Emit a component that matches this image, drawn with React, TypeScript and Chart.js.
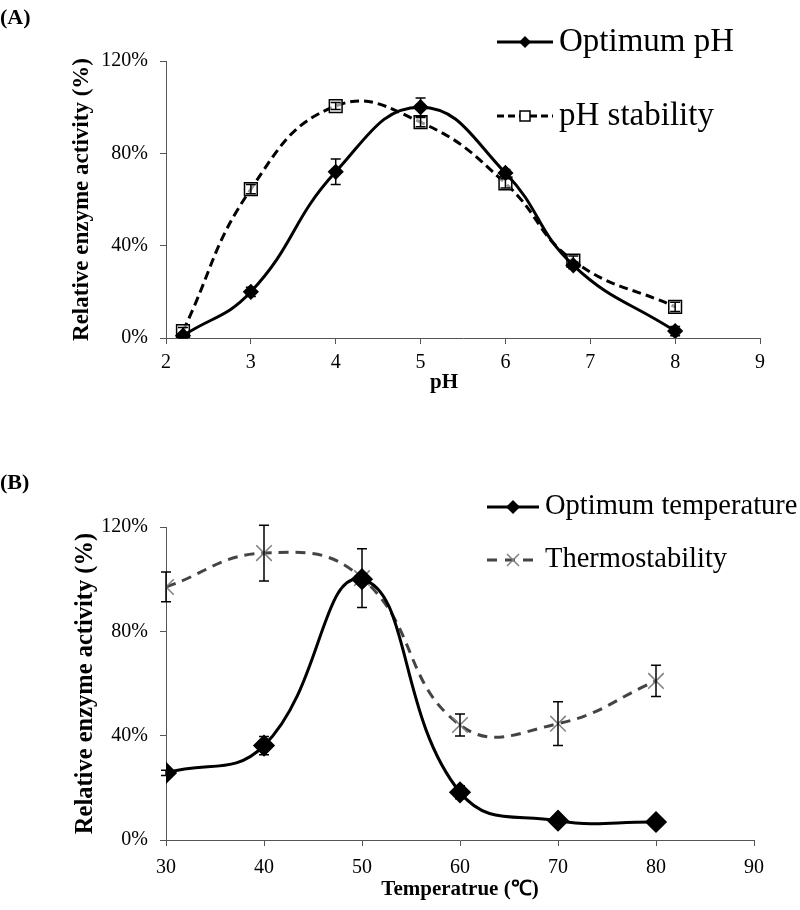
import React, { useEffect, useRef } from "react";
import { Chart, registerables } from "chart.js";
Chart.register(...registerables);

const FONT = '"Liberation Serif", "Times New Roman", Times, serif';

// ---- Panel A data ----
const phValues = [2.2, 3, 4, 5, 6, 6.8, 8];
const optimumPh = [1, 20, 72, 100, 71.5, 31.5, 3];
const optimumPhErr = [1, 2, 5.5, 4, 1.5, 1.5, 2];
const phStability = [3, 64.5, 100.5, 93.5, 67, 33.5, 13.5];
const phStabilityErr = [1.5, 2, 1.5, 2, 2, 2, 2];
const phAxis = { min: 2, max: 9, step: 1 };
const percentAxis = { min: 0, max: 120, step: 40 };

// ---- Panel B data ----
const temperatures = [30, 40, 50, 60, 70, 80];
const optimumTemp = [25.7, 36.2, 100, 18.3, 7.4, 6.9];
const optimumTempErr = [1, 3.5, 1.5, 2.5, 1, 1];
const thermostability = [97, 110, 100.4, 44.1, 44.6, 61];
const thermostabilityErr = [5.7, 10.7, 11.3, 4.2, 8.4, 6];
const tempAxis = { min: 30, max: 90, step: 10 };

const LABELS_A = ["Optimum pH", "pH stability"];
const LABELS_B = ["Optimum temperature", "Thermostability"];
const X_TITLE_A = "pH";
const X_TITLE_B = "Temperatrue (℃)";
const Y_TITLE = "Relative enzyme activity (%)";

type Marker = "diamond" | "square" | "cross";

function drawMarker(ctx: CanvasRenderingContext2D, kind: Marker, x: number, y: number, r: number, color: string) {
  ctx.save();
  ctx.setLineDash([]);
  ctx.beginPath();
  if (kind === "diamond") {
    ctx.moveTo(x, y - r);
    ctx.lineTo(x + r, y);
    ctx.lineTo(x, y + r);
    ctx.lineTo(x - r, y);
    ctx.closePath();
    ctx.fillStyle = color;
    ctx.fill();
  } else if (kind === "square") {
    ctx.rect(x - r, y - r, 2 * r, 2 * r);
    ctx.fillStyle = "#fff";
    ctx.fill();
    ctx.lineWidth = 1.5;
    ctx.strokeStyle = color;
    ctx.stroke();
  } else {
    ctx.moveTo(x - r, y - r);
    ctx.lineTo(x + r, y + r);
    ctx.moveTo(x + r, y - r);
    ctx.lineTo(x - r, y + r);
    ctx.lineWidth = 1.5;
    ctx.strokeStyle = color;
    ctx.stroke();
  }
  ctx.restore();
}

function errorBarPlugin(errs: number[][]) {
  return {
    id: "errorBars",
    afterDatasetsDraw(chart: any) {
      const ctx = chart.ctx as CanvasRenderingContext2D;
      const xs = chart.scales.x;
      const ys = chart.scales.y;
      ctx.save();
      ctx.strokeStyle = "#000";
      ctx.lineWidth = 1.5;
      chart.data.datasets.forEach((ds: any, i: number) => {
        const e = errs[i];
        if (!e) return;
        ds.data.forEach((p: any, j: number) => {
          const px = xs.getPixelForValue(p.x);
          const top = ys.getPixelForValue(p.y + e[j]);
          const bot = ys.getPixelForValue(p.y - e[j]);
          ctx.beginPath();
          ctx.moveTo(px, top);
          ctx.lineTo(px, bot);
          ctx.moveTo(px - 5, top);
          ctx.lineTo(px + 5, top);
          ctx.moveTo(px - 5, bot);
          ctx.lineTo(px + 5, bot);
          ctx.stroke();
        });
      });
      ctx.restore();
    },
  };
}

function xTitlePlugin(text: string, dx: number, y: number, font: string) {
  return {
    id: "xTitle",
    afterDraw(chart: any) {
      const ctx = chart.ctx as CanvasRenderingContext2D;
      const a = chart.chartArea;
      ctx.save();
      ctx.fillStyle = "#000";
      ctx.font = font;
      ctx.textAlign = "center";
      ctx.textBaseline = "middle";
      ctx.fillText(text, (a.left + a.right) / 2 + dx, y);
      ctx.restore();
    },
  };
}

interface LegendItem {
  label: string;
  color: string;
  markerColor: string;
  dash: number[];
  marker: Marker;
  r: number;
}

function legendPlugin(items: LegendItem[], x0: number, x1: number, ys: number[], font: string) {
  return {
    id: "customLegend",
    afterDraw(chart: any) {
      const ctx = chart.ctx as CanvasRenderingContext2D;
      items.forEach((it, i) => {
        const y = ys[i];
        ctx.save();
        ctx.strokeStyle = it.color;
        ctx.lineWidth = 3;
        ctx.setLineDash(it.dash);
        ctx.beginPath();
        ctx.moveTo(x0, y);
        ctx.lineTo(x1, y);
        ctx.stroke();
        ctx.restore();
        drawMarker(ctx, it.marker, (x0 + x1) / 2, y, it.r, it.markerColor);
        ctx.save();
        ctx.fillStyle = "#000";
        ctx.font = font;
        ctx.textBaseline = "middle";
        ctx.fillText(it.label, x1 + 6, y);
        ctx.restore();
      });
    },
  };
}

function pts(xs: number[], ys: number[]) {
  return xs.map((x, i) => ({ x, y: ys[i] }));
}

function axes(xr: any, xTitle: string | null, xTitleSize: number, xTitlePadBottom: number, xHeight: number, xTickPad: number, yTitleSize: number, yTitlePad: number) {
  return {
    x: {
      type: "linear",
      min: xr.min,
      max: xr.max,
      afterFit: (s: any) => { s.height = xHeight; },
      ticks: { stepSize: xr.step, color: "#000", font: { family: FONT, size: 20, lineHeight: 1 }, padding: xTickPad, maxRotation: 0 },
      grid: { drawOnChartArea: false, drawTicks: true, tickLength: 6, color: "#555", lineWidth: 1 },
      border: { color: "#555", width: 1 },
      title: { display: !!xTitle, text: xTitle || "", color: "#000", font: { family: FONT, size: xTitleSize, weight: "bold", lineHeight: 1 }, padding: { top: 0, bottom: xTitlePadBottom } },
    },
    y: {
      min: percentAxis.min,
      max: percentAxis.max,
      afterFit: (s: any) => { s.width = 166; },
      ticks: { stepSize: percentAxis.step, color: "#000", font: { family: FONT, size: 20, lineHeight: 1 }, padding: 12, callback: (v: any) => v + "%" },
      grid: { drawOnChartArea: false, drawTicks: true, tickLength: 6, color: "#555", lineWidth: 1 },
      border: { color: "#555", width: 1 },
      title: { display: true, text: Y_TITLE, color: "#000", font: { family: FONT, size: yTitleSize, weight: "bold", lineHeight: 1 }, padding: { top: yTitlePad, bottom: 0 } },
    },
  };
}

function ChartA() {
  const ref = useRef<HTMLCanvasElement>(null);
  useEffect(() => {
    const chart = new Chart(ref.current!, {
      type: "line",
      data: {
        datasets: [
          {
            label: LABELS_A[0],
            data: pts(phValues, optimumPh),
            borderColor: "#000",
            borderWidth: 3,
            tension: 0.45,
            pointStyle: "rectRot",
            pointRadius: 6,
            pointBackgroundColor: "#000",
            pointBorderColor: "#000",
          },
          {
            label: LABELS_A[1],
            data: pts(phValues, phStability),
            borderColor: "#000",
            borderWidth: 3,
            borderDash: [9, 5],
            tension: 0.45,
            pointStyle: "rect",
            pointRadius: 9,
            pointBackgroundColor: "rgba(255,255,255,0.6)",
            pointBorderColor: "#000",
            pointBorderWidth: 1.5,
          },
        ],
      } as any,
      options: {
        responsive: false,
        animation: false,
        layout: { padding: { left: 0, right: 40, top: 61, bottom: 0 } },
        plugins: { legend: { display: false }, tooltip: { enabled: false } },
        scales: axes(phAxis, null, 21, 8, 62, 9, 23, 70.5) as any,
      },
      plugins: [
        errorBarPlugin([optimumPhErr, phStabilityErr]),
        xTitlePlugin(X_TITLE_A, -19, 382.5, `bold 21px ${FONT}`),
        legendPlugin(
          [
            { label: LABELS_A[0], color: "#000", markerColor: "#000", dash: [], marker: "diamond", r: 6 },
            { label: LABELS_A[1], color: "#000", markerColor: "#000", dash: [7, 4], marker: "square", r: 5 },
          ],
          497, 553, [42, 116], `33px ${FONT}`
        ),
      ],
    });
    return () => chart.destroy();
  }, []);
  return <canvas ref={ref} width={800} height={400} style={{ position: "absolute", left: 0, top: 0 }} />;
}

function ChartB() {
  const ref = useRef<HTMLCanvasElement>(null);
  useEffect(() => {
    const chart = new Chart(ref.current!, {
      type: "line",
      data: {
        datasets: [
          {
            label: LABELS_B[0],
            data: pts(temperatures, optimumTemp),
            borderColor: "#000",
            borderWidth: 3,
            tension: 0.45,
            pointStyle: "rectRot",
            pointRadius: 9,
            pointBackgroundColor: "#000",
            pointBorderColor: "#000",
          },
          {
            label: LABELS_B[1],
            data: pts(temperatures, thermostability),
            borderColor: "#444",
            borderWidth: 3,
            borderDash: [10, 7],
            tension: 0.45,
            pointStyle: "crossRot",
            pointRadius: 11,
            pointBackgroundColor: "#808080",
            pointBorderColor: "#808080",
            pointBorderWidth: 1.5,
          },
        ],
      } as any,
      options: {
        responsive: false,
        animation: false,
        layout: { padding: { left: 0, right: 46, top: 97, bottom: 0 } },
        plugins: { legend: { display: false }, tooltip: { enabled: false } },
        scales: axes(tempAxis, X_TITLE_B, 21, 9.5, 70, 12, 24.5, 73.5) as any,
      },
      plugins: [
        errorBarPlugin([optimumTempErr, thermostabilityErr]),
        legendPlugin(
          [
            { label: LABELS_B[0], color: "#000", markerColor: "#000", dash: [], marker: "diamond", r: 7 },
            { label: LABELS_B[1], color: "#444", markerColor: "#808080", dash: [10, 8], marker: "cross", r: 6 },
          ],
          487, 539, [77, 130], `28.5px ${FONT}`
        ),
      ],
    });
    return () => chart.destroy();
  }, []);
  return <canvas ref={ref} width={800} height={480} style={{ position: "absolute", left: 0, top: 430 }} />;
}

export default function App() {
  const lbl: React.CSSProperties = { position: "absolute", left: 0, fontFamily: FONT, fontWeight: "bold", fontSize: 22, lineHeight: "22px", margin: 0 };
  return (
    <div style={{ position: "absolute", left: 0, top: 0, width: 800, height: 910, background: "#fff", overflow: "hidden" }}>
      <ChartA />
      <ChartB />
      <div style={{ ...lbl, top: 6 }}>(A)</div>
      <div style={{ ...lbl, top: 471 }}>(B)</div>
    </div>
  );
}
